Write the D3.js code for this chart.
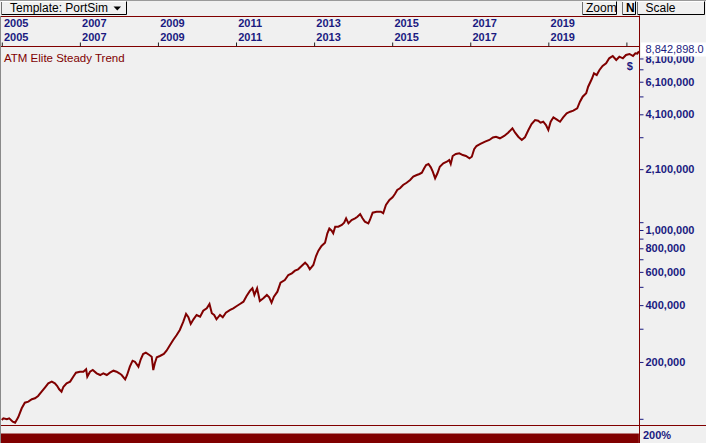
<!DOCTYPE html>
<html><head><meta charset="utf-8">
<script src="https://cdn.jsdelivr.net/npm/d3@7/dist/d3.min.js"></script>
<style>
html,body{margin:0;padding:0;background:#f0f0f0;}
svg{display:block;font-family:"Liberation Sans",Arial,sans-serif;}
</style></head><body>
<svg id="c" width="706" height="443"></svg>
<script>
// ---- data ----
const years = [
2005.00,2005.04,2005.13,2005.19,2005.28,2005.34,2005.42,2005.51,2005.59,2005.68,
2005.77,2005.85,2005.93,2006.02,2006.11,2006.19,2006.28,2006.36,2006.42,2006.47,
2006.53,2006.58,2006.66,2006.75,2006.83,2006.90,2007.00,2007.09,2007.16,2007.19,
2007.26,2007.33,2007.43,2007.52,2007.60,2007.69,2007.77,2007.86,2007.94,2008.01,
2008.07,2008.16,2008.21,2008.28,2008.35,2008.41,2008.50,2008.56,2008.62,2008.69,
2008.78,2008.84,2008.88,2008.92,2008.97,2009.05,2009.15,2009.22,2009.31,2009.39,
2009.48,2009.56,2009.65,2009.72,2009.78,2009.84,2009.91,2009.99,2010.08,2010.16,
2010.25,2010.32,2010.38,2010.44,2010.50,2010.59,2010.66,2010.74,2010.85,2010.93,
2011.02,2011.10,2011.19,2011.27,2011.36,2011.42,2011.47,2011.54,2011.61,2011.70,
2011.79,2011.85,2011.91,2011.97,2012.06,2012.14,2012.25,2012.34,2012.43,2012.51,
2012.59,2012.68,2012.77,2012.83,2012.89,2012.98,2013.05,2013.11,2013.19,2013.28,
2013.34,2013.39,2013.45,2013.49,2013.54,2013.62,2013.71,2013.77,2013.82,2013.88,
2013.96,2014.05,2014.11,2014.18,2014.24,2014.30,2014.39,2014.43,2014.50,2014.60,
2014.71,2014.77,2014.84,2014.93,2015.01,2015.07,2015.13,2015.20,2015.28,2015.37,
2015.46,2015.54,2015.63,2015.70,2015.76,2015.82,2015.87,2015.93,2015.99,2016.04,
2016.10,2016.16,2016.22,2016.31,2016.40,2016.46,2016.50,2016.55,2016.63,2016.72,
2016.81,2016.89,2016.98,2017.04,2017.10,2017.16,2017.26,2017.38,2017.49,2017.58,
2017.66,2017.76,2017.87,2017.97,2018.08,2018.15,2018.23,2018.32,2018.40,2018.49,
2018.57,2018.66,2018.74,2018.80,2018.87,2018.94,2019.00,2019.06,2019.13,2019.21,
2019.30,2019.38,2019.47,2019.56,2019.64,2019.74,2019.81,2019.88,2019.97,2020.02,
2020.11,2020.17,2020.24,2020.31,2020.39,2020.48,2020.56,2020.65,2020.74,2020.82,
2020.91,2020.99,2021.08,2021.17,2021.23,2021.28,2021.32
];
const equityThousands = [
98.5,100.6,99.4,100.6,96.5,95.3,101.8,113.7,121.7,123.2,
126.9,128.4,132.1,139.2,146.9,154.2,157.3,154.2,149.2,143.3,
139.2,147.9,154.2,157.3,167.1,175.5,177.6,177.6,182.9,167.1,
177.6,181.3,174.2,170.6,174.2,170.6,175.5,179.8,177.6,174.2,
170.6,161.9,170.6,188.8,203.1,200.6,188.8,206.6,220.4,223.9,
217.7,213.3,181.3,196.8,211.7,215.1,220.4,229.5,246.0,261.5,
277.9,295.3,326.8,359.1,344.9,317.8,336.5,354.7,347.4,373.8,
384.9,405.6,362.2,354.7,336.5,354.7,344.9,364.8,377.0,384.9,
395.9,405.6,417.2,447.3,477.0,491.2,452.8,491.2,420.8,434.9,
452.8,440.2,412.1,443.5,471.2,526.0,543.5,577.6,589.7,608.7,
619.2,644.6,671.1,652.6,619.2,652.6,728.3,776.9,822.7,856.5,
960.5,1018,991.5,960.5,1041,1041,1063,1093,1153,1085,
1130,1153,1176,1215,1153,1107,1085,1130,1235,1250,
1250,1226,1357,1442,1490,1551,1629,1663,1731,1780,
1840,1916,1956,1980,2012,2122,2209,2236,2148,2036,
1879,1997,2164,2255,2300,2348,2236,2465,2526,2548,
2495,2465,2397,2444,2676,2786,2855,2936,2998,3090,
3120,3060,3147,3276,3456,3276,3120,2998,3097,3386,
3641,3823,3791,3700,3745,3597,3386,3745,3952,3856,
3745,3952,4152,4233,4285,4413,4782,5082,5297,5741,
6284,6761,6622,7038,7390,7637,8118,8349,7952,8278,
8118,8452,8556,8349,8629,8600,8842.898
];
const yearTicks = [2005,2007,2009,2011,2013,2015,2017,2019,2021];
const yearLabels = ["2005","2007","2009","2011","2013","2015","2017","2019"];
const valueTicks = [100000,200000,300000,400000,500000,600000,700000,800000,900000,
  1000000,1100000,2100000,3100000,4100000,5100000,6100000,7100000,8100000];
const labeledTicks = [200000,400000,600000,800000,1000000,2100000,4100000,6100000,8100000];
const lastValue = 8842898.0;
const exposurePct = 200;
const seriesTitle = "ATM Elite Steady Trend";
const templateName = "Template: PortSim";

// ---- drawing ----
const svg = d3.select("#c");
const W = 706, H = 443;
const RED = "#800000", NAVY = "#1a1a80";
const plotRight = 639.5, plotTop = 46.5, plotBottom = 425.5;

const x = d3.scaleLinear().domain([2005, 2021]).range([1.8, 626.4]);
const y = d3.scaleLog().domain([1e5, 1e6]).range([418.8, 230]);
const yExp = d3.scaleLinear().domain([0, 200]).range([H, 433.5]);

svg.append("rect").attr("width", W).attr("height", H).attr("fill", "#f0f0f0");

// toolbar
svg.append("line").attr("x1",0).attr("x2",W).attr("y1",0.5).attr("y2",0.5).attr("stroke","#9a9a9a");
function button(x0, x1, label, tx, bold) {
  const g = svg.append("g");
  g.append("rect").attr("x", x0).attr("y", 1.5).attr("width", x1 - x0).attr("height", 13)
    .attr("fill", "#f0f0f0").attr("stroke", "none");
  g.append("path").attr("d", `M${x0+0.5},14.5V1.5H${x1}`).attr("stroke", "#ffffff").attr("fill","none");
  g.append("path").attr("d", `M${x0+0.5},14.5H${x1-0.5}V1.5`).attr("stroke", "#000").attr("fill","none");
  g.append("path").attr("d", `M${x0+0.5},14.5V2`).attr("stroke", "#707070").attr("fill","none");
  g.append("text").attr("x", tx).attr("y", 12).attr("font-size", 12)
    .attr("font-weight", bold ? "bold" : "normal").attr("fill", "#000").text(label);
  return g;
}
const tb = button(1, 127, templateName, 10, false);
tb.append("path").attr("d", "M113.5,6.5H121L117.25,10.5Z").attr("fill", "#000");
button(582, 617, "Zoom", 586, false);
button(622, 636, "N", 626, true);
button(637, 705, "Scale", 645.5, false);

// panel frame lines
svg.append("line").attr("x1",0).attr("x2",plotRight).attr("y1",16.5).attr("y2",16.5).attr("stroke",RED);
svg.append("line").attr("x1",0).attr("x2",plotRight).attr("y1",plotTop).attr("y2",plotTop).attr("stroke",RED);
svg.append("line").attr("x1",0).attr("x2",W).attr("y1",plotBottom).attr("y2",plotBottom).attr("stroke",RED);

// year scale rows
const yearAxis = d3.axisTop(x).tickValues(yearTicks).tickSize(4).tickFormat("");
const ya = svg.append("g").attr("transform", `translate(0,${plotTop})`).call(yearAxis);
ya.select(".domain").remove();
ya.selectAll(".tick line").attr("stroke", "#202020");
[27, 41].forEach(base => {
  svg.append("g").selectAll("text").data(yearLabels).join("text")
    .attr("x", d => x(+d) + 2.2).attr("y", base)
    .attr("font-size", 11).attr("font-weight", "bold").attr("fill", NAVY).text(d => d);
});

// clip for plot
svg.append("clipPath").attr("id", "plotclip").append("rect")
  .attr("x", 1).attr("y", plotTop + 0.5).attr("width", plotRight - 1.5).attr("height", plotBottom - plotTop - 1);

// equity line
const data = d3.zip(years, equityThousands);
const line = d3.line().x(d => x(d[0])).y(d => y(d[1] * 1000));
svg.append("path").datum(data).attr("clip-path", "url(#plotclip)")
  .attr("d", line).attr("fill", "none").attr("stroke", RED)
  .attr("stroke-width", 2).attr("stroke-linejoin", "miter");

// title
svg.append("text").attr("x", 4).attr("y", 62).attr("font-size", 11.5).attr("fill", RED).text(seriesTitle);

// right value axis
const yAxis = d3.axisRight(y).tickValues(valueTicks).tickSize(4).tickPadding(2)
  .tickFormat(d => labeledTicks.includes(d) ? d3.format(",")(d) : "");
const ax = svg.append("g").attr("transform", `translate(${plotRight},0)`).call(yAxis);
ax.select(".domain").remove();
ax.selectAll(".tick line").attr("stroke", NAVY);
ax.selectAll(".tick text").attr("font-size", 11).attr("font-weight", "bold")
  .attr("fill", NAVY).attr("font-family", "Liberation Sans, Arial, sans-serif");

// exposure strip
svg.append("rect").attr("x", 1).attr("width", x(years[years.length - 1]) - 1)
  .attr("y", yExp(exposurePct)).attr("height", H - yExp(exposurePct)).attr("fill", RED);
svg.append("text").attr("x", 643).attr("y", 438.5).attr("font-size", 11).attr("font-weight", "bold")
  .attr("fill", NAVY).text(exposurePct + "%");

// vertical separator
svg.append("line").attr("x1", plotRight).attr("x2", plotRight).attr("y1", 15.5).attr("y2", H).attr("stroke", RED);
// left border
svg.append("line").attr("x1", 0.5).attr("x2", 0.5).attr("y1", 16).attr("y2", H).attr("stroke", "#8a8a8a");

// last value box (covers the top of the 8,100,000 label, as in the reference)
const yl = y(lastValue) - 1.8;
svg.append("rect").attr("x", 641).attr("y", yl - 7).attr("width", 65).attr("height", 14).attr("fill", "#ffffff");
svg.append("text").attr("x", 645.5).attr("y", yl).attr("dy", "0.35em").attr("font-size", 11)
  .attr("fill", NAVY).text(d3.format(",.1f")(lastValue));

// currency marker
svg.append("text").attr("x", x(years[years.length - 1]) - 9).attr("y", 70).attr("text-anchor", "middle")
  .attr("font-size", 11).attr("font-weight", "bold").attr("fill", NAVY).text("$");
</script>
</body></html>
